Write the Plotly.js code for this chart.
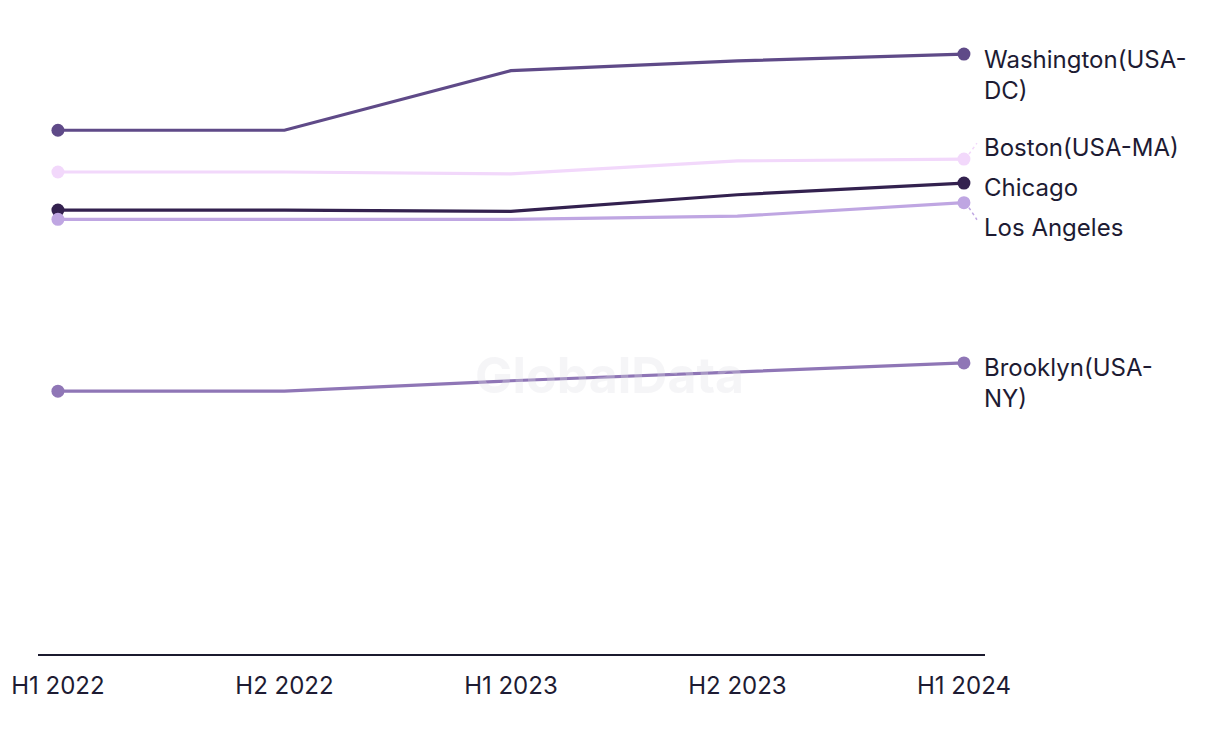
<!DOCTYPE html>
<html>
<head>
<meta charset="utf-8">
<script src="https://cdn.plot.ly/plotly-3.0.1.min.js"></script>
<style>
html,body{margin:0;padding:0;background:#fff;}
#chart{width:1220px;height:744px;}
</style>
</head>
<body>
<div id="chart"></div>
<script>
var periods = ["H1 2022", "H2 2022", "H1 2023", "H2 2023", "H1 2024"];
var cities = ["Washington(USA-<br>DC)", "Boston(USA-MA)", "Chicago", "Los Angeles", "Brooklyn(USA-<br>NY)"];
var washington = [85.3, 85.3, 95.0, 96.6, 97.7];
var boston = [78.5, 78.5, 78.2, 80.3, 80.6];
var chicago = [72.3, 72.3, 72.1, 74.8, 76.7];
var losAngeles = [70.8, 70.8, 70.8, 71.3, 73.5];
var brooklyn = [42.8, 42.8, 44.5, 45.9, 47.4];

var series = [washington, boston, chicago, losAngeles, brooklyn];
var colors = ["#5f4a88", "#f2d8fb", "#33214f", "#bfa6e2", "#8f76b6"];
var labelShift = [11, 12, -4, -25, 12];
var xs = periods.map(function(_, i){ return i; });
var last = xs.length - 1;

var traces = series.map(function(vals, k){
  return {
    x: xs, y: vals, type: "scatter", mode: "lines+markers",
    line: {color: colors[k], width: 3.2},
    marker: {color: colors[k], opacity: 1, line: {width: 0},
             size: vals.map(function(_, i){ return (i === 0 || i === last) ? 13 : 0; })},
    hoverinfo: "skip", showlegend: false
  };
});

var font = "Inter, Liberation Sans, Arial, sans-serif";
var annotations = series.map(function(vals, k){
  var twoLine = cities[k].indexOf("<br>") >= 0;
  return {
    x: last, y: vals[last], xref: "x", yref: "y",
    text: cities[k], showarrow: false, xanchor: "left",
    yanchor: twoLine ? "top" : "middle",
    align: "left", xshift: 18,
    yshift: labelShift[k],
    font: {family: font, size: 24, color: "#1d1b33"}
  };
});
annotations.push({
  xref: "paper", yref: "paper", x: 0.603, y: 0.455, text: "<b>GlobalData</b>",
  showarrow: false, font: {family: font, size: 50, color: "rgba(222,222,230,0.3)"}
});

var shapes = [
  {type: "line", xref: "x", yref: "y", xsizemode: "pixel", ysizemode: "pixel",
   xanchor: last, yanchor: boston[last], x0: 5, x1: 13, y0: 5, y1: 16,
   line: {color: colors[1], width: 1.5, dash: "dot"}},
  {type: "line", xref: "x", yref: "y", xsizemode: "pixel", ysizemode: "pixel",
   xanchor: last, yanchor: losAngeles[last], x0: 5, x1: 13, y0: -5, y1: -17,
   line: {color: colors[3], width: 1.5, dash: "dot"}}
];

var layout = {
  width: 1220, height: 744,
  margin: {l: 38, r: 235, t: 40, b: 90},
  paper_bgcolor: "#ffffff", plot_bgcolor: "#ffffff",
  xaxis: {
    range: [-0.088, 4.093], tickvals: xs, ticktext: periods,
    showgrid: false, zeroline: false, showline: true, linecolor: "#1b1a2e", linewidth: 2,
    ticks: "outside", ticklen: 9, tickcolor: "rgba(0,0,0,0)",
    tickfont: {family: font, size: 24, color: "#1d1b33"}
  },
  yaxis: {range: [0, 100], showgrid: false, zeroline: false, showline: false, showticklabels: false, ticks: ""},
  annotations: annotations,
  shapes: shapes
};

Plotly.newPlot("chart", traces, layout, {displayModeBar: false, staticPlot: true});
</script>
</body>
</html>
